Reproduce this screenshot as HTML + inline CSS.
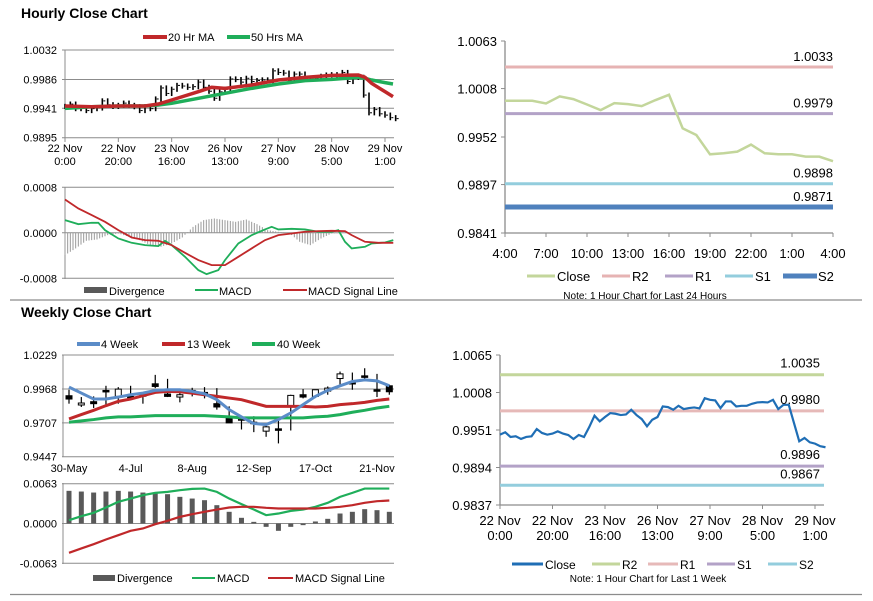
<!DOCTYPE html>
<html><head><meta charset="utf-8"><style>
html,body{margin:0;padding:0;background:#fff;}
svg{display:block;font-family:"Liberation Sans",Arial,sans-serif;}
</style></head><body>
<svg id="chart" width="873" height="601" viewBox="0 0 873 601" xmlns="http://www.w3.org/2000/svg">
<text x="21" y="18" font-size="14" font-weight="bold" fill="#000">Hourly Close Chart</text>
<text x="21" y="317" font-size="14" font-weight="bold" fill="#000">Weekly Close Chart</text>
<line x1="10" y1="300" x2="862" y2="300" stroke="#8c8c8c" stroke-width="1.2"/>
<line x1="10" y1="594.5" x2="862" y2="594.5" stroke="#8c8c8c" stroke-width="1.2"/>
</svg>
<script>
// ===== Hourly (last week, 2h steps) close =====
const hourlyClose=[.99439,.99475,.99404,.99414,.99374,.99404,.99414,.99525,.99465,.99439,.99455,.9949,.99455,.99434,.99374,.99434,.99404,.99555,.99727,.99641,.99707,.99767,.99757,.99737,.99747,.99818,.99737,.99676,.99566,.99666,.99707,.99868,.99858,.99818,.99878,.99828,.99843,.99853,.99838,.99994,.99969,.99959,.99843,.99944,.99944,.99868,.99878,.99878,.99909,.99929,.99934,.99929,.99969,.99828,.99893,.99893,.99616,.99339,.99389,.99323,.99303,.99263,.99248];
const hourlyStep=2;
const hourlyXTicks=[["22 Nov","0:00"],["22 Nov","20:00"],["23 Nov","16:00"],["26 Nov","13:00"],["27 Nov","9:00"],["28 Nov","5:00"],["29 Nov","1:00"]];
const hourlyXTickHours=[0,20,40,60,80,100,120];
const ma20Hours=[0,10,20,30,35,40,50,55,60,70,80,90,100,110,112.5,115,120,123];
const ma20Values=[.99445,.99434,.99445,.99445,.99476,.99539,.99669,.99737,.99721,.99773,.99851,.99893,.99924,.99929,.99893,.99799,.99669,.99591];
const ma50Hours=[0,10,20,30,35,40,50,60,70,80,90,100,110,112.5,115,120,123];
const ma50Values=[.99408,.99434,.99445,.99445,.99461,.99487,.99565,.99643,.99721,.99789,.99841,.99862,.99893,.99877,.99851,.9981,.99789];
const hPriceTicks=[1.0032,0.9986,0.9941,0.9895];
const hMacdHours=[0,5,10,12.5,15,20,25,30,35,37.5,40,45,50,53.1,57.5,60,65,70,75,77.5,80,85,90,95,100,102.5,105,107.5,112.5,115,120,123.1];
const hMacdValues=[.000223,.000152,.000176,.000176,.000047,-.0001,-.000176,-.000217,-.000234,-.000141,-.000217,-.000422,-.000656,-.000727,-.000656,-.00048,-.000188,-.000041,.000059,.000105,.000059,.00007,.000059,.000018,.000018,.000047,-.000158,-.000275,-.000246,-.000188,-.00017,-.000129];
const hSignalHours=[0,5,10,15,20,25,30,35,40,45,50,55,60,65,70,75,80,85,90,95,100,105,107.5,112.5,117.5,123.1];
const hSignalValues=[.000586,.000428,.000311,.000193,.000047,-.000082,-.000129,-.000141,-.000217,-.000352,-.00048,-.000568,-.000568,-.000422,-.000275,-.000129,-.000041,-.000012,.000018,.000029,.000035,.000029,-.000041,-.000158,-.000176,-.000176];
const hDivStep=4;
const hDivValues=[-.000393,-.000275,-.000141,-.000117,-.000041,-.000012,-.00007,-.000129,-.000217,-.000246,-.000188,-.000082,.000105,.000223,.000252,.000223,.000193,.000234,.000152,.000047,.000018,0,-.000158,-.000217,-.0001,-.000012,0];
const hMacdTicks=[0.0008,0,-0.0008];
// ===== Last 24 hours =====
const dayClose=[.99939,.99939,.99939,.99908,.99989,.99958,.99896,.99831,.99912,.999,.99877,.99946,1.00008,.9962,.99543,.9932,.99332,.99351,.99432,.99332,.9932,.9932,.99293,.99293,.9924];
const dayXTicks=["4:00","7:00","10:00","13:00","16:00","19:00","22:00","1:00","4:00"];
const dayYTicks=[1.0063,1.0008,0.9952,0.9897,0.9841];
const dayLevelNames=["R2","R1","S1","S2"];
const dayLevels=[1.0033,0.9979,0.9898,0.9871];
const weekLevelNames=["R2","R1","S1","S2"];
const weekLevels=[1.0035,0.9980,0.9896,0.9867];
const weekYTicks=[1.0065,1.0008,0.9951,0.9894,0.9837];
// ===== Weekly =====
const wkLabels=["30-May","4-Jul","8-Aug","12-Sep","17-Oct","21-Nov"];
const wkLabelIdx=[0,5,10,15,20,25];
const wkOpen=[.99158,.98446,.987,.99566,.99107,.99107,.99235,1.00075,.99286,.99057,.99566,.99413,.98547,.97453,.97453,.97122,.96434,.96612,.98395,.99235,.99107,.99515,1.00482,1.00177,1.00686,.99617,.99922];
const wkClose=[.98904,.98598,.98547,.99515,.99668,.99057,.99184,.99871,.99107,.99235,.99515,.99362,.98293,.97071,.97274,.97071,.96765,.96561,.99184,.99057,.99617,.99744,1.00839,1.00126,1.00635,.99566,.99464];
const wkHigh=[.99617,.99057,.99107,.99922,.9982,.99922,.99362,1.00762,1.00457,.99489,.99769,.9982,.99744,.98344,.97631,.9758,.9702,.97453,.99235,.99668,.99617,.99871,1.01017,1.00941,1.01272,1.00839,.99999];
const wkLow=[.98547,.98293,.98216,.98471,.98547,.98853,.98547,.99744,.99057,.98649,.99107,.98955,.98089,.97071,.96561,.96358,.96001,.95492,.96485,.98955,.9898,.99235,.99999,.99617,1.00431,.99057,.99235];
const wk4=[.9982,.99362,.98904,.98904,.99057,.99235,.99362,.99566,.99617,.99617,.99489,.99311,.98853,.98089,.97529,.9702,.96943,.97325,.97834,.98471,.99107,.99566,.99922,1.00253,1.0038,1.00304,.99922];
const wk13=[.97376,.97707,.98038,.98395,.98726,.98904,.99158,.99413,.99489,.99464,.99362,.99235,.99107,.9898,.98853,.98598,.98344,.98344,.98344,.98344,.98293,.98344,.98471,.98547,.98649,.98802,.98904];
const wk40=[.97122,.97223,.97325,.97453,.97529,.97529,.9758,.97631,.97631,.97631,.97631,.97631,.9758,.97529,.97453,.97453,.97453,.97453,.97453,.97453,.97529,.9758,.97707,.97885,.98038,.98216,.98344];
const wYTicks=[1.0229,0.9968,0.9707,0.9447];
const wDiv=[.00517,.00506,.0049,.00506,.00517,.00506,.0049,.00474,.00464,.00422,.00395,.00369,.0029,.00185,.0009,.00026,-.00053,-.00116,-.00053,-.00026,.00032,.00074,.00158,.00185,.00227,.00211,.00185];
const wMacd=[.00053,.00116,.00169,.00253,.00343,.00395,.00448,.00485,.00501,.00527,.00548,.00553,.00501,.00395,.00306,.00221,.00132,.00158,.002,.00221,.00264,.00327,.00422,.00485,.00553,.00553,.00553];
const wSignal=[-.00464,-.00395,-.00327,-.00253,-.00185,-.00116,-.00079,-.00011,.00042,.00105,.00148,.00185,.00221,.00253,.00264,.00264,.00248,.00237,.00237,.00237,.00237,.00248,.00264,.0029,.00327,.00353,.00364];
const wMacdTicks=[0.0063,0,-0.0063];

const NS='http://www.w3.org/2000/svg';
const svg=document.getElementById('chart');
function mk(tag,attrs){const e=document.createElementNS(NS,tag);for(const k in attrs)e.setAttribute(k,attrs[k]);svg.appendChild(e);return e;}
function lin(d0,d1,r0,r1){return v=>r0+(v-d0)/(d1-d0)*(r1-r0);}
function pathD(xs,ys,sx,sy){return xs.map((x,i)=>(i?'L':'M')+sx(x).toFixed(2)+' '+sy(ys[i]).toFixed(2)).join(' ');}
function txt(x,y,s,size,anchor,fill){const t=mk('text',{x:x,y:y,'font-size':size,'text-anchor':anchor||'start',fill:fill||'#000'});t.textContent=s;return t;}
const idx=n=>Array.from({length:n},(_,i)=>i);

// ---------- Hourly price (top-left) ----------
{
const sx=lin(0,120,65,385), sy=lin(1.0032,0.9895,50,137.7);
hPriceTicks.forEach((v,i)=>{
 const g=mk('line',{x1:62,x2:394,y1:sy(v),y2:sy(v),stroke:'#8c8c8c','stroke-width':1});
 
 
 const t=txt(57,sy(v)+4,v.toFixed(4),11,'end');
 
 
});
const ax=mk('line',{x1:65,x2:65,y1:50,y2:138,stroke:'#8c8c8c'});


hourlyXTickHours.forEach((h,i)=>{
 const tk=mk('line',{x1:sx(h),x2:sx(h),y1:138,y2:142,stroke:'#8c8c8c'});
 
 
 const a=txt(sx(h),152,hourlyXTicks[i][0],11,'middle');
 
 
 const b=txt(sx(h),165,hourlyXTicks[i][1],11,'middle');
 
 
});
hourlyClose.forEach((v,i)=>{
 const p=i?hourlyClose[i-1]:v;
 const hi=Math.max(p,v)+0.0004, lo=Math.min(p,v)-0.0004;
 const b=mk('line',{x1:sx(i*hourlyStep),x2:sx(i*hourlyStep),y1:sy(hi),y2:sy(lo),stroke:'#000','stroke-width':1.6});
 
 
 const c=mk('line',{x1:sx(i*hourlyStep)+1,x2:sx(i*hourlyStep)+3,y1:sy(v),y2:sy(v),stroke:'#000','stroke-width':1});
 
 
});
const g50=mk('path',{d:pathD(ma50Hours,ma50Values,sx,sy),fill:'none',stroke:'#1fae5a','stroke-width':3.5});


const r20=mk('path',{d:pathD(ma20Hours,ma20Values,sx,sy),fill:'none',stroke:'#c0282a','stroke-width':3.5});


const l1=mk('line',{x1:143,x2:167,y1:37,y2:37,stroke:'#c0282a','stroke-width':4});


const t1=txt(168,41,'20 Hr MA',11);


const l2=mk('line',{x1:227,x2:250,y1:37,y2:37,stroke:'#1fae5a','stroke-width':4});


const t2=txt(251,41,'50 Hrs MA',11);


}
// ---------- Hourly MACD ----------
{
const sx=lin(0,120,65,385), sy=lin(0.0008,-0.0008,187.3,278.3);
hMacdTicks.forEach(v=>{
 const g=mk('line',{x1:62,x2:394,y1:sy(v),y2:sy(v),stroke:'#8c8c8c'});
 
 
 const t=txt(57,sy(v)+4,v.toFixed(4),11,'end');
 
 
});
const ax=mk('line',{x1:65,x2:65,y1:187,y2:279,stroke:'#8c8c8c'});


hDivValues.forEach((v,i)=>{
 for(let k=0;k<4;k++){
  const nv=i+1<hDivValues.length?hDivValues[i+1]:v;
  const vv=v+(nv-v)*k/4;
  const h=i*hDivStep+k;
  if(h>123)continue;
  const b=mk('line',{x1:sx(h),x2:sx(h),y1:sy(0),y2:sy(vv),stroke:'#9a9a9a','stroke-width':1});
  
  
 }
});
const m=mk('path',{d:pathD(hMacdHours,hMacdValues,sx,sy),fill:'none',stroke:'#1fae5a','stroke-width':1.8});


const s=mk('path',{d:pathD(hSignalHours,hSignalValues,sx,sy),fill:'none',stroke:'#c0282a','stroke-width':1.8});


const lb=mk('rect',{x:84,y:287,width:23,height:6,fill:'#595959'});


const a=txt(109,295,'Divergence',11);


const lm=mk('line',{x1:195,x2:218,y1:290,y2:290,stroke:'#1fae5a','stroke-width':2});


const b=txt(219,295,'MACD',11);


const ls=mk('line',{x1:283,x2:307,y1:290,y2:290,stroke:'#c0282a','stroke-width':2});


const c=txt(308,295,'MACD Signal Line',11);


}
// ---------- 24-hour levels (top-right) ----------
{
const sx=lin(0,24,505,833), sy=lin(1.0063,0.9841,41,233);
const colors=['#e6b3b3','#b3a2c7','#93cddd','#4f81bd'];
const widths=[3,3,3,5];
dayYTicks.forEach(v=>{
 const t=txt(497,sy(v)+5,v.toFixed(4),13,'end');
 
 
 const tk=mk('line',{x1:501,x2:505,y1:sy(v),y2:sy(v),stroke:'#8c8c8c'});
 
 
});
const ay=mk('line',{x1:505,x2:505,y1:41,y2:233,stroke:'#8c8c8c','stroke-width':1.3});


const axx=mk('line',{x1:505,x2:833,y1:233,y2:233,stroke:'#8c8c8c','stroke-width':1.3});


dayXTicks.forEach((s,i)=>{
 const tk=mk('line',{x1:sx(i*3),x2:sx(i*3),y1:233,y2:237,stroke:'#8c8c8c'});
 
 
 const t=txt(sx(i*3),258,s,13,'middle');
 
 
});
dayLevels.forEach((v,i)=>{
 const l=mk('line',{x1:505,x2:833,y1:sy(v),y2:sy(v),stroke:colors[i],'stroke-width':widths[i]});
 
 
 const t=txt(833,sy(v)-6,v.toFixed(4),13,'end');
 
 
});
const c=mk('path',{d:pathD(idx(dayClose.length),dayClose,sx,sy),fill:'none',stroke:'#c3d69b','stroke-width':2.5});


const items=[['Close','#c3d69b',527,555,557,3],['R2','#e6b3b3',602,630,632,3],['R1','#b3a2c7',665,693,695,3],['S1','#93cddd',725,753,755,3],['S2','#4f81bd',783,817,818,5]];
items.forEach(it=>{
 const l=mk('line',{x1:it[2],x2:it[3],y1:276,y2:276,stroke:it[1],'stroke-width':it[5]});
 
 
 const t=txt(it[4],281,it[0],13);
 
 
});
const n=txt(645,299,'Note: 1 Hour Chart for Last 24 Hours',10,'middle');


}
// ---------- Week hourly close with levels (bottom-right) ----------
{
const sx=lin(0,120,500,815), sy=lin(1.0065,0.9837,355,505);
const colors=['#c3d69b','#e6b9b8','#b3a2c7','#93cddd'];
weekYTicks.forEach(v=>{
 const t=txt(492,sy(v)+5,v.toFixed(4),13,'end');
 
 
 const tk=mk('line',{x1:496,x2:500,y1:sy(v),y2:sy(v),stroke:'#8c8c8c'});
 
 
});
const ay=mk('line',{x1:500,x2:500,y1:355,y2:505,stroke:'#8c8c8c','stroke-width':1.3});


const axx=mk('line',{x1:500,x2:824,y1:505,y2:505,stroke:'#8c8c8c','stroke-width':1.3});


hourlyXTickHours.forEach((h,i)=>{
 const tk=mk('line',{x1:sx(h),x2:sx(h),y1:505,y2:509,stroke:'#8c8c8c'});
 
 
 const a=txt(sx(h),525,hourlyXTicks[i][0],13,'middle');
 
 
 const b=txt(sx(h),540,hourlyXTicks[i][1],13,'middle');
 
 
});
weekLevels.forEach((v,i)=>{
 const l=mk('line',{x1:500,x2:824,y1:sy(v),y2:sy(v),stroke:colors[i],'stroke-width':3});
 
 
});
const c=mk('path',{d:pathD(idx(hourlyClose.length).map(i=>i*hourlyStep),hourlyClose,sx,sy),fill:'none',stroke:'#1f6eb5','stroke-width':2.2});


weekLevels.forEach((v,i)=>{
 const t=txt(820,sy(v)-7,v.toFixed(4),13,'end');
 
 
});
const items=[['Close','#1f6eb5',512,543,545],['R2','#c3d69b',592,620,622],['R1','#e6b9b8',648,678,680],['S1','#b3a2c7',707,735,737],['S2','#93cddd',768,797,799]];
items.forEach(it=>{
 const l=mk('line',{x1:it[2],x2:it[3],y1:564,y2:564,stroke:it[1],'stroke-width':3});
 
 
 const t=txt(it[4],569,it[0],12);
 
 
});
const n=txt(648,582,'Note: 1 Hour Chart for Last 1 Week',10,'middle');


}
// ---------- Weekly candles ----------
{
const sx=lin(0,25,69,377), sy=lin(1.0229,0.9447,355,456.7);
wYTicks.forEach(v=>{
 const g=mk('line',{x1:62,x2:394,y1:sy(v),y2:sy(v),stroke:'#8c8c8c'});
 
 
 const t=txt(57,sy(v)+4,v.toFixed(4),11,'end');
 
 
});
const ax=mk('line',{x1:63,x2:63,y1:355,y2:457,stroke:'#8c8c8c'});


wkLabelIdx.forEach((w,i)=>{
 const t=txt(sx(w),472,wkLabels[i],11,'middle');
 
 
});
wkOpen.forEach((o,i)=>{
 const c=wkClose[i];
 const w=mk('line',{x1:sx(i),x2:sx(i),y1:sy(wkHigh[i]),y2:sy(wkLow[i]),stroke:'#000','stroke-width':1.2});
 
 
 const top=Math.max(o,c), bot=Math.min(o,c);
 const h=Math.max(1.5,sy(bot)-sy(top));
 const b=mk('rect',{x:sx(i)-3,y:sy(top),width:6,height:h,fill:o>c?'#000':'#fff',stroke:'#000','stroke-width':1});
 
 
});
const ws=idx(wk4.length);
const g=mk('path',{d:pathD(ws,wk40,sx,sy),fill:'none',stroke:'#1fae5a','stroke-width':3});


const r=mk('path',{d:pathD(ws,wk13,sx,sy),fill:'none',stroke:'#c0282a','stroke-width':3});


const bl=mk('path',{d:pathD(ws,wk4,sx,sy),fill:'none',stroke:'#5b8cc8','stroke-width':3});


const items=[['4 Week','#5b8cc8',77,100,101],['13 Week','#c0282a',162,185,187],['40 Week','#1fae5a',252,275,277]];
items.forEach(it=>{
 const l=mk('line',{x1:it[2],x2:it[3],y1:344,y2:344,stroke:it[1],'stroke-width':4});
 
 
 const t=txt(it[4],348,it[0],11);
 
 
});
}
// ---------- Weekly MACD ----------
{
const sx=lin(0,25,69,377), sy=lin(0.0063,-0.0063,483.7,563.3);
wMacdTicks.forEach(v=>{
 const g=mk('line',{x1:62,x2:394,y1:sy(v),y2:sy(v),stroke:'#8c8c8c'});
 
 
 const t=txt(57,sy(v)+4,v.toFixed(4),11,'end');
 
 
});
const ax=mk('line',{x1:63,x2:63,y1:483,y2:564,stroke:'#8c8c8c'});


wDiv.forEach((v,i)=>{
 const y0=sy(0), y1=sy(v);
 const b=mk('rect',{x:sx(i)-2.5,y:Math.min(y0,y1),width:5,height:Math.abs(y1-y0),fill:'#595959'});
 
 
});
const ws=idx(wMacd.length);
const m=mk('path',{d:pathD(ws,wMacd,sx,sy),fill:'none',stroke:'#1fae5a','stroke-width':2.2});


const s=mk('path',{d:pathD(ws,wSignal,sx,sy),fill:'none',stroke:'#c0282a','stroke-width':2.2});


const lb=mk('rect',{x:93,y:575,width:22,height:6,fill:'#595959'});


const a=txt(117,582,'Divergence',11);


const lm=mk('line',{x1:192,x2:215,y1:578,y2:578,stroke:'#1fae5a','stroke-width':2});


const b=txt(217,582,'MACD',11);


const ls=mk('line',{x1:268,x2:293,y1:578,y2:578,stroke:'#c0282a','stroke-width':2});


const c=txt(295,582,'MACD Signal Line',11);


}
</script>
</body></html>
